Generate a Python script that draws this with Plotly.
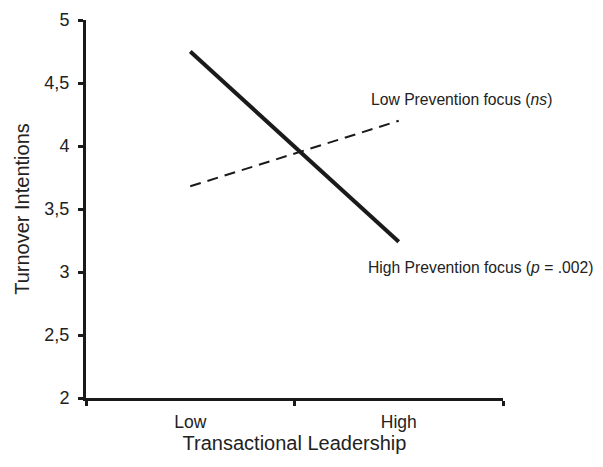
import plotly.graph_objects as go

categories = ["Low", "High"]
high_prevention = [4.75, 3.24]
low_prevention = [3.68, 4.20]
y_ticks = [2, 2.5, 3, 3.5, 4, 4.5, 5]

font_family = "Liberation Sans, Arial, sans-serif"

fig = go.Figure()
fig.add_trace(go.Scatter(x=categories, y=low_prevention, mode="lines",
                         line=dict(color="#1a1a1a", width=2, dash="11px,7px"),
                         showlegend=False, hoverinfo="skip"))
fig.add_trace(go.Scatter(x=categories, y=high_prevention, mode="lines",
                         line=dict(color="#1a1a1a", width=4),
                         showlegend=False, hoverinfo="skip"))

fig.update_layout(
    width=595, height=459,
    margin=dict(l=78, r=100, t=12, b=69, autoexpand=False),
    plot_bgcolor="white", paper_bgcolor="white",
    separators=",.",
    font=dict(family=font_family, color="#222222"),
    xaxis=dict(
        type="category", range=[-0.5, 1.5], tickson="boundaries",
        showline=True, linecolor="#1a1a1a", linewidth=3,
        ticks="outside", ticklen=5, tickwidth=3, tickcolor="#1a1a1a",
        showgrid=False, zeroline=False, automargin=False,
        tickfont=dict(size=17.5), ticklabelstandoff=6,
        title=dict(text="Transactional Leadership", font=dict(size=20), standoff=4),
    ),
    yaxis=dict(
        range=[2, 5], tickvals=y_ticks,
        showline=True, linecolor="#1a1a1a", linewidth=3,
        ticks="outside", ticklen=5, tickwidth=3, tickcolor="#1a1a1a",
        showgrid=False, zeroline=False, automargin=False,
        tickfont=dict(size=18), ticklabelstandoff=5,
        title=dict(text="Turnover Intentions", font=dict(size=20), standoff=10),
    ),
    annotations=[
        dict(xref="paper", yref="paper", x=0.678, y=0.791, xanchor="left", yanchor="middle",
             text="Low Prevention focus (<i>ns</i>)", showarrow=False,
             font=dict(size=15.7, color="#222222")),
        dict(xref="paper", yref="paper", x=0.672, y=0.344, xanchor="left", yanchor="middle",
             text="High Prevention focus (<i>p</i> = .002)", showarrow=False,
             font=dict(size=15.7, color="#222222")),
    ],
)

fig.write_html("out.html")
